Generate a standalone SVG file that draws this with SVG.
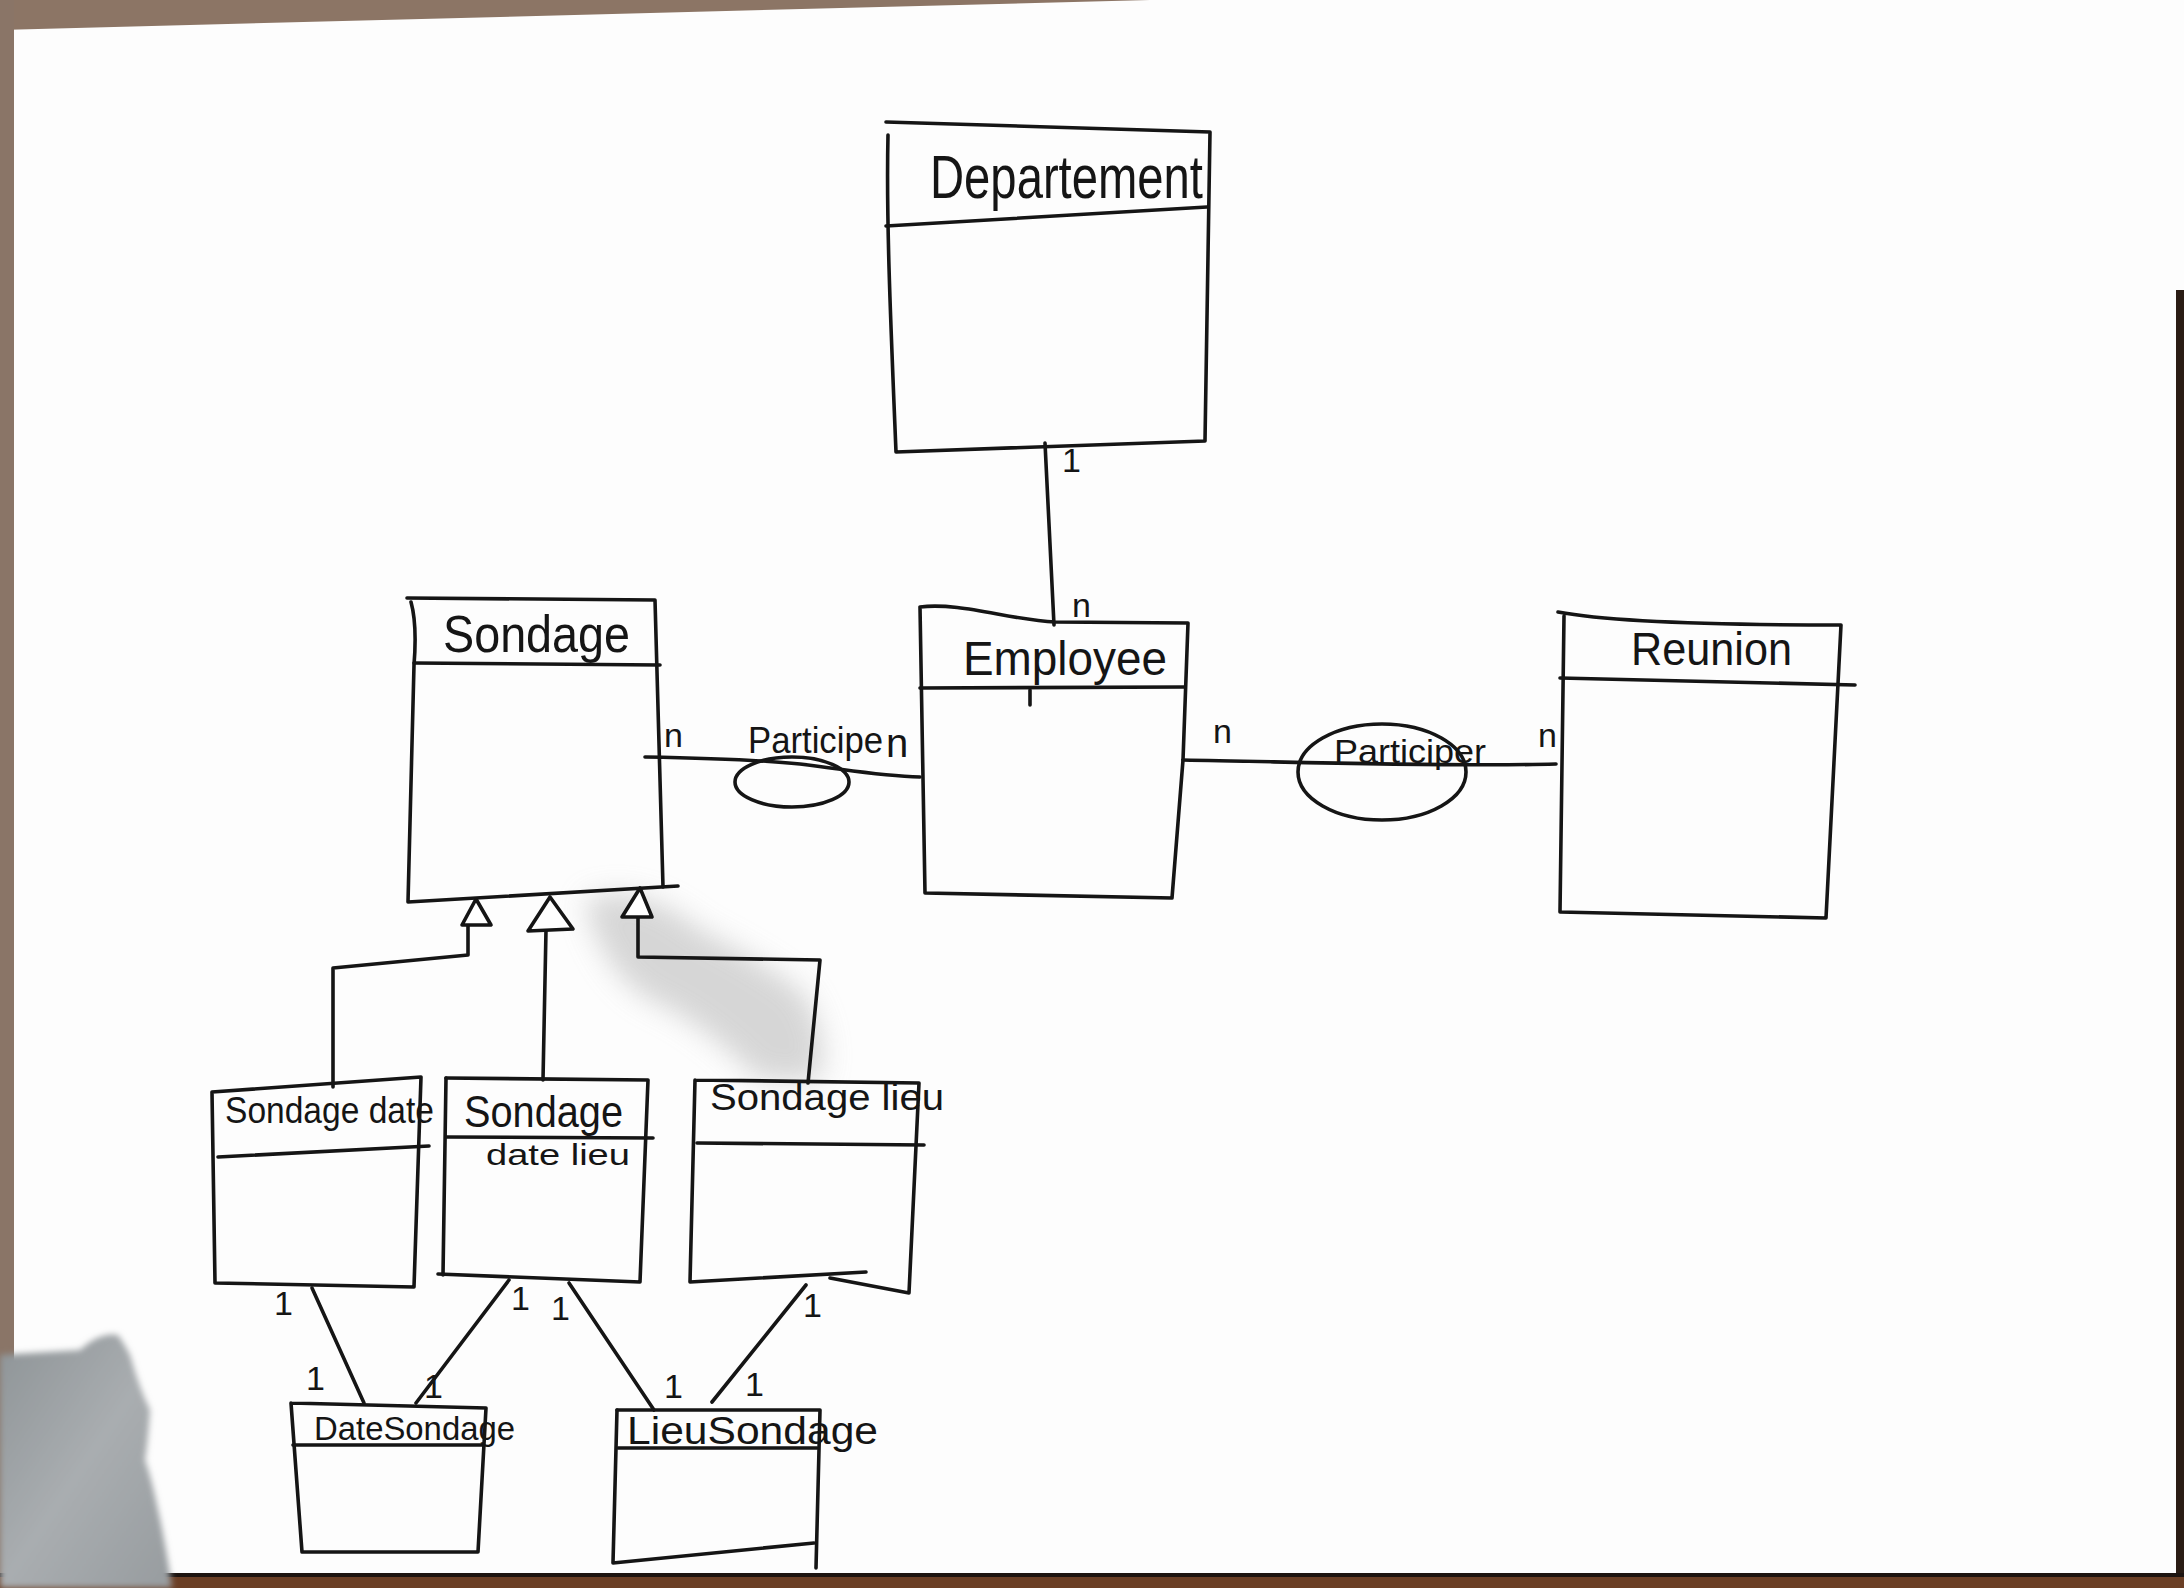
<svg xmlns="http://www.w3.org/2000/svg" width="2184" height="1588" viewBox="0 0 2184 1588">
  <defs>
    <style>
      .ink{fill:none;stroke:#151515;stroke-width:3.6;stroke-linecap:round;stroke-linejoin:round}
      .head{fill:#ffffff;stroke:#151515;stroke-width:3.6;stroke-linejoin:round}
      .t{font-family:"Liberation Sans",Arial,sans-serif;fill:#151515}
      .m{font-family:"Liberation Sans",Arial,sans-serif;fill:#151515;font-size:34px}
    </style>
    <filter id="soft" x="-30%" y="-30%" width="160%" height="160%">
      <feGaussianBlur stdDeviation="14"/>
    </filter>
    <filter id="edge" x="-10%" y="-10%" width="120%" height="120%">
      <feGaussianBlur stdDeviation="3"/>
    </filter>
    <linearGradient id="cloud" x1="0" y1="0" x2="1" y2="1">
      <stop offset="0" stop-color="#8e9497"/>
      <stop offset="0.5" stop-color="#a9adb0"/>
      <stop offset="1" stop-color="#979c9f"/>
    </linearGradient>
  </defs>

  <!-- paper and table edges -->
  <rect x="0" y="0" width="2184" height="1588" fill="#fdfdfd"/>
  <polygon points="0,0 1150,0 0,30" fill="#8c7565"/>
  <rect x="0" y="0" width="14" height="1588" fill="#8a7567"/>
  <rect x="2176" y="290" width="8" height="1298" fill="#2a1c14"/>
  <rect x="0" y="1574" width="2184" height="14" fill="#6b3f25"/>
  <rect x="0" y="1573" width="2184" height="4" fill="#1d1410"/>

  <!-- grey shadow at the lower left corner -->
  <path d="M0,1355 L80,1350 Q100,1332 118,1335 Q125,1345 130,1355 Q140,1390 150,1410 Q148,1440 145,1460 Q152,1480 158,1510 Q165,1540 172,1588 L0,1588 Z" fill="url(#cloud)" filter="url(#edge)"/>

  <!-- soft shadow between the Sondage subclasses -->
  <path d="M585,900 Q640,880 700,930 Q760,960 800,990 Q830,1030 820,1080 L760,1080 Q700,1020 650,1000 Q600,970 585,900 Z" fill="#c9c9c9" opacity="0.75" filter="url(#soft)"/>

  <!-- connectors -->
  <g id="connectors">
    <!-- Departement 1 - n Employee -->
    <path class="ink" d="M1045,443 L1054,625"/>
    <text class="m" x="1062" y="472">1</text>
    <text class="m" x="1072" y="617">n</text>

    <!-- Sondage n - Participe - n Employee -->
    <path class="ink" d="M645,757 C700,758 760,760 800,764 C850,770 880,776 920,777"/>
    <ellipse class="ink" cx="792" cy="782" rx="57" ry="25"/>
    <text class="m" x="664" y="747">n</text>
    <text class="t" x="748" y="753" font-size="36" textLength="135" lengthAdjust="spacingAndGlyphs">Participe</text>
    <text class="t" x="886" y="757" font-size="40">n</text>

    <!-- Employee n - Participer - n Reunion -->
    <path class="ink" d="M1183,760 C1300,762 1450,767 1556,764"/>
    <ellipse class="ink" cx="1382" cy="772" rx="84" ry="48"/>
    <text class="m" x="1213" y="743">n</text>
    <text class="m" x="1538" y="747">n</text>
    <text class="t" x="1334" y="763" font-size="34" textLength="152" lengthAdjust="spacingAndGlyphs">Participer</text>

    <!-- generalisation towards Sondage -->
    <path class="ink" d="M468,925 L468,955 L333,968 L333,1087"/>
    <path class="ink" d="M546,930 L543,1080"/>
    <path class="ink" d="M638,917 L638,957 L820,960 L808,1083"/>
    <polygon class="head" points="476,899 491,925 462,925"/>
    <polygon class="head" points="550,897 573,929 528,931"/>
    <polygon class="head" points="640,888 652,917 622,917"/>

    <!-- associations to DateSondage / LieuSondage -->
    <path class="ink" d="M312,1288 L364,1403"/>
    <path class="ink" d="M509,1280 L416,1403"/>
    <path class="ink" d="M569,1283 L654,1410"/>
    <path class="ink" d="M806,1285 L712,1402"/>
    <text class="m" x="274" y="1315" font-size="30">1</text>
    <text class="m" x="306" y="1390" font-size="30">1</text>
    <text class="m" x="511" y="1310" font-size="30">1</text>
    <text class="m" x="424" y="1398" font-size="26">1</text>
    <text class="m" x="551" y="1320" font-size="30">1</text>
    <text class="m" x="664" y="1398" font-size="26">1</text>
    <text class="m" x="803" y="1317" font-size="30">1</text>
    <text class="m" x="745" y="1396" font-size="30">1</text>
  </g>

  <!-- classes -->
  <g id="departement">
    <path class="ink" d="M886,122 L1210,132 L1205,441 L896,452 C891,330 886,220 888,135"/>
    <path class="ink" d="M886,226 L1207,207"/>
    <text class="t" x="930" y="198" font-size="62" textLength="273" lengthAdjust="spacingAndGlyphs">Departement</text>
  </g>

  <g id="employee">
    <path class="ink" d="M920,607 C960,602 1010,620 1055,622 L1188,623 L1183,760 L1172,898 L925,893 L920,607"/>
    <path class="ink" d="M920,688 L1185,687"/>
    <path class="ink" d="M1030,690 L1030,705"/>
    <text class="t" x="963" y="675" font-size="48" textLength="204" lengthAdjust="spacingAndGlyphs">Employee</text>
  </g>

  <g id="sondage">
    <path class="ink" d="M407,598 L655,600 L663,887"/>
    <path class="ink" d="M411,602 C416,620 416,640 414,665 L408,902 L678,886"/>
    <path class="ink" d="M414,663 L660,665"/>
    <text class="t" x="443" y="652" font-size="52" textLength="187" lengthAdjust="spacingAndGlyphs">Sondage</text>
  </g>

  <g id="reunion">
    <path class="ink" d="M1558,612 C1600,620 1700,625 1841,625 L1826,918 L1560,912 L1564,616"/>
    <path class="ink" d="M1560,678 L1855,685"/>
    <text class="t" x="1631" y="665" font-size="46" textLength="161" lengthAdjust="spacingAndGlyphs">Reunion</text>
  </g>

  <g id="sondage-date">
    <path class="ink" d="M212,1092 L421,1077 L414,1287 L215,1283 Z"/>
    <path class="ink" d="M218,1157 L429,1146"/>
    <text class="t" x="225" y="1123" font-size="36" textLength="209" lengthAdjust="spacingAndGlyphs">Sondage date</text>
  </g>

  <g id="sondage-date-lieu">
    <path class="ink" d="M446,1078 L648,1080 L640,1282 L438,1274"/>
    <path class="ink" d="M446,1078 L443,1275"/>
    <path class="ink" d="M446,1137 L653,1138"/>
    <text class="t" x="464" y="1127" font-size="44" textLength="159" lengthAdjust="spacingAndGlyphs">Sondage</text>
    <text class="t" x="486" y="1165" font-size="30" textLength="144" lengthAdjust="spacingAndGlyphs">date lieu</text>
  </g>

  <g id="sondage-lieu">
    <path class="ink" d="M695,1080 L919,1083 L909,1293 L830,1278 M866,1272 L690,1282 L695,1080"/>
    <path class="ink" d="M697,1143 L924,1145"/>
    <text class="t" x="710" y="1110" font-size="36" textLength="234" lengthAdjust="spacingAndGlyphs">Sondage lieu</text>
  </g>

  <g id="date-sondage">
    <path class="ink" d="M291,1403 L486,1408 L478,1552 L302,1552 L291,1403"/>
    <path class="ink" d="M293,1445 L483,1445"/>
    <text class="t" x="314" y="1440" font-size="34" textLength="201" lengthAdjust="spacingAndGlyphs">DateSondage</text>
  </g>

  <g id="lieu-sondage">
    <path class="ink" d="M617,1410 L820,1410 L816,1568"/>
    <path class="ink" d="M617,1410 L613,1563 L814,1543"/>
    <path class="ink" d="M618,1448 L817,1448"/>
    <text class="t" x="627" y="1444" font-size="38" textLength="251" lengthAdjust="spacingAndGlyphs">LieuSondage</text>
  </g>
</svg>
